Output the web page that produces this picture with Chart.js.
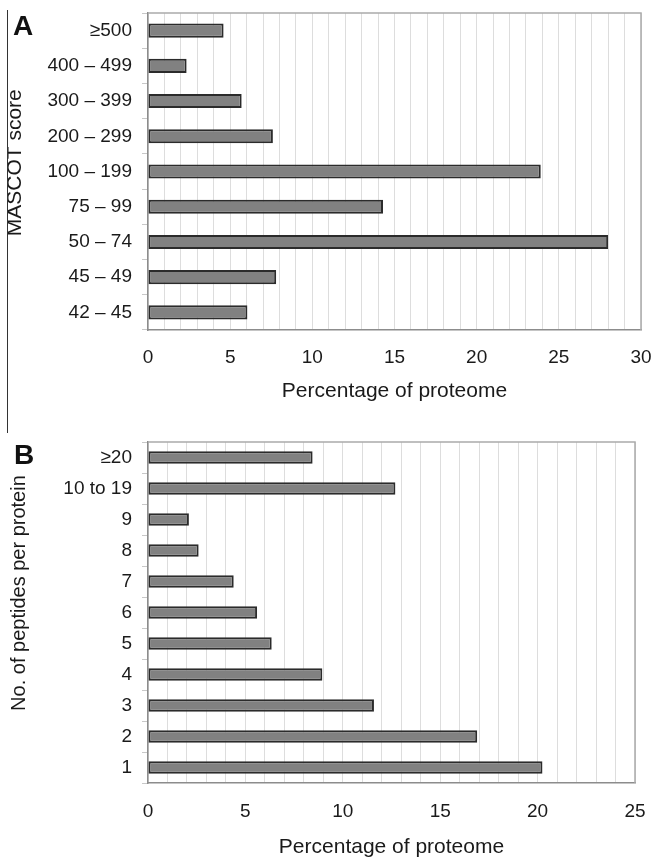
<!DOCTYPE html>
<html>
<head>
<meta charset="utf-8">
<script src="https://cdn.jsdelivr.net/npm/chart.js@4/dist/chart.umd.min.js"></script>
<style>
  html, body { margin: 0; padding: 0; background: #fff; }
  #wrap { position: relative; width: 654px; height: 860px; overflow: hidden; font-family: "Liberation Sans", Arial, sans-serif; }
  canvas { position: absolute; left: 0; }
  #cA { top: 0; }
  #cB { top: 425px; }
  .panel { position: absolute; font-weight: bold; font-size: 28px; line-height: 28px; color: #111; }
  #rule { position: absolute; left: 7px; top: 10px; width: 1px; height: 423px; background: #333; }
</style>
</head>
<body>
<div id="wrap">
  <canvas id="cA" width="654" height="410"></canvas>
  <canvas id="cB" width="654" height="435"></canvas>
  <div id="rule"></div>
  <div class="panel" style="left:13px; top:12px;">A</div>
  <div class="panel" style="left:14px; top:441px;">B</div>
</div>
<script>
// ---- Panel A data ----
const categoriesA = ['≥500', '400 – 499', '300 – 399', '200 – 299', '100 – 199', '75 – 99', '50 – 74', '45 – 49', '42 – 45'];
const valuesA = [4.6, 2.35, 5.7, 7.6, 23.9, 14.3, 28.0, 7.8, 6.05];
const xTickLabelsA = [0, 5, 10, 15, 20, 25, 30];

// ---- Panel B data ----
const categoriesB = ['≥20', '10 to 19', '9', '8', '7', '6', '5', '4', '3', '2', '1'];
const valuesB = [8.45, 12.7, 2.1, 2.6, 4.4, 5.6, 6.35, 8.95, 11.6, 16.9, 20.25];
const xTickLabelsB = [0, 5, 10, 15, 20, 25];

const textColor = '#1a1a1a';
const fontFamily = '"Liberation Sans", Arial, Helvetica, sans-serif';

const frameTopRight = {
  id: 'frameTopRight',
  beforeDatasetsDraw(chart) {
    const a = chart.chartArea, ctx = chart.ctx;
    ctx.save();
    ctx.strokeStyle = '#aaaaaa';
    ctx.lineWidth = 1.5;
    ctx.beginPath();
    ctx.moveTo(a.left, a.top);
    ctx.lineTo(a.right, a.top);
    ctx.lineTo(a.right, a.bottom);
    ctx.stroke();
    ctx.restore();
  }
};

function makeChart(id, cats, vals, tickLabels, cfg) {
  return new Chart(document.getElementById(id), {
    type: 'bar',
    data: {
      labels: cats,
      datasets: [{
        data: vals,
        backgroundColor: '#818181',
        borderColor: '#2b2b2b',
        borderWidth: 2,
        borderSkipped: false,
        barPercentage: cfg.barPct,
        categoryPercentage: 1.0
      }]
    },
    options: {
      indexAxis: 'y',
      responsive: false,
      animation: false,
      devicePixelRatio: 1,
      layout: { padding: { top: cfg.padTop, right: cfg.padRight, left: 0, bottom: 0 } },
      plugins: { legend: { display: false }, tooltip: { enabled: false } },
      scales: {
        x: {
          min: 0,
          max: tickLabels[tickLabels.length - 1],
          afterFit(s) { s.height = cfg.xAxisHeight; s.paddingLeft = 0; s.paddingRight = 0; },
          ticks: {
            stepSize: 1,
            autoSkip: false,
            maxRotation: 0,
            padding: cfg.xTickPad,
            color: textColor,
            font: { family: fontFamily, size: 19 },
            callback: (v) => tickLabels.includes(v) ? String(v) : ''
          },
          grid: { color: '#dddddd', lineWidth: 1, drawTicks: false },
          border: { color: '#8c8c8c', width: 1.5 },
          title: {
            display: true,
            text: 'Percentage of proteome',
            color: textColor,
            font: { family: fontFamily, size: 21 },
            padding: { top: 0, bottom: cfg.xTitlePadBottom }
          }
        },
        y: {
          afterFit(s) { s.width = 148; s.paddingTop = 0; s.paddingBottom = 0; },
          ticks: {
            padding: 10,
            color: textColor,
            font: { family: fontFamily, size: 19 }
          },
          grid: { drawOnChartArea: false, drawTicks: true, tickLength: 6, tickColor: '#c8c8c8' },
          border: { color: '#8c8c8c', width: 1.5 },
          title: {
            display: true,
            text: cfg.yTitle,
            color: textColor,
            font: { family: fontFamily, size: cfg.yTitleSize },
            padding: { top: cfg.yTitlePadTop, bottom: 0 }
          }
        }
      }
    },
    plugins: [frameTopRight]
  });
}

makeChart('cA', categoriesA, valuesA, xTickLabelsA, {
  barPct: 0.4, padTop: 13, padRight: 13, xAxisHeight: 80, xTickPad: 16, xTitlePadBottom: 6,
  yTitle: '   MASCOT score', yTitleSize: 21, yTitlePadTop: 3
});
makeChart('cB', categoriesB, valuesB, xTickLabelsB, {
  barPct: 0.41, padTop: 17, padRight: 19, xAxisHeight: 77, xTickPad: 17, xTitlePadBottom: 0,
  yTitle: '       No. of peptides per protein', yTitleSize: 20, yTitlePadTop: 7
});
</script>
</body>
</html>
